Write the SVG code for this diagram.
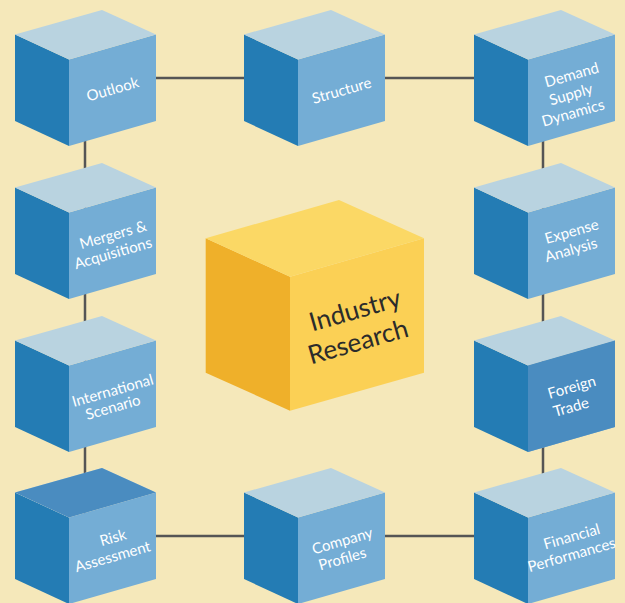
<svg xmlns="http://www.w3.org/2000/svg" width="625" height="603" viewBox="0 0 625 603">
<defs>
<style>
.lf{fill:#247cb4}
.rf{fill:#74add5}
.tf{fill:#b9d3e0}
.dk{fill:#4a8cc0}
.conn{stroke:#555;stroke-width:2.5;fill:none}
.lbl{font-family:Lato,"Open Sans","DejaVu Sans",sans-serif;font-size:15px;fill:#fff;text-anchor:middle}
.big{font-family:Lato,"Open Sans","DejaVu Sans",sans-serif;font-size:26px;fill:#2b2b2b;text-anchor:middle}
</style>
<g id="cube">
<polygon class="lf" points="0,24.5 54,49.5 54,136 0,111"/>
<polygon class="rf" points="54,49.5 141,24.5 141,111 54,136"/>
<polygon class="tf" points="0,24.5 87,0 141,24.5 54,49.5"/>
</g>
</defs>
<rect width="625" height="603" fill="#f5e8ba"/>
<g id="connectors">
<line class="conn" x1="100" y1="78" x2="550" y2="78"/>
<line class="conn" x1="100" y1="536" x2="550" y2="536"/>
<line class="conn" x1="85" y1="100" x2="85" y2="520"/>
<line class="conn" x1="543" y1="100" x2="543" y2="520"/>
</g>
<g id="outlook">
<use href="#cube" x="15" y="10"/>
<text class="lbl" transform="translate(112.7,89.3) rotate(-16)" y="5">Outlook</text>
</g>
<g id="structure">
<use href="#cube" x="244" y="10"/>
<text class="lbl" transform="translate(341.7,90.7) rotate(-16)" y="5">Structure</text>
</g>
<g id="demand">
<use href="#cube" x="474" y="10"/>
<text class="lbl" transform="translate(571.7,75) rotate(-16)" y="5">Demand</text>
<text class="lbl" transform="translate(571,94.5) rotate(-16)" y="5">Supply</text>
<text class="lbl" transform="translate(573,113) rotate(-16)" y="5">Dynamics</text>
</g>
<g id="mergers">
<use href="#cube" x="15" y="163"/>
<text class="lbl" transform="translate(113,235) rotate(-16)" y="5">Mergers &amp;</text>
<text class="lbl" transform="translate(113,253.3) rotate(-16)" y="5">Acquisitions</text>
</g>
<g id="expense">
<use href="#cube" x="474" y="163"/>
<text class="lbl" transform="translate(571.7,231.7) rotate(-16)" y="5">Expense</text>
<text class="lbl" transform="translate(571,250) rotate(-16)" y="5">Analysis</text>
</g>
<g id="international">
<use href="#cube" x="15" y="316"/>
<text class="lbl" transform="translate(112.7,390.7) rotate(-16)" y="5">International</text>
<text class="lbl" transform="translate(113,407.3) rotate(-16)" y="5">Scenario</text>
</g>
<g id="foreign">
<use href="#cube" x="474" y="316"/>
<polygon class="dk" points="528,365.5 615,340.5 615,427 528,452"/>
<text class="lbl" transform="translate(571.7,387.3) rotate(-16)" y="5">Foreign</text>
<text class="lbl" transform="translate(571,407.3) rotate(-16)" y="5">Trade</text>
</g>
<g id="risk">
<use href="#cube" x="15" y="468"/>
<polygon class="dk" points="15,492.5 102,468 156,492.5 69,517.5"/>
<text class="lbl" transform="translate(113,537.7) rotate(-16)" y="5">Risk</text>
<text class="lbl" transform="translate(112.7,556.7) rotate(-16)" y="5">Assessment</text>
</g>
<g id="company">
<use href="#cube" x="244" y="468"/>
<text class="lbl" transform="translate(342.3,541) rotate(-16)" y="5">Company</text>
<text class="lbl" transform="translate(342.3,559) rotate(-16)" y="5">Profiles</text>
</g>
<g id="financial">
<use href="#cube" x="474" y="468"/>
<text class="lbl" transform="translate(571.7,536.7) rotate(-16)" y="5">Financial</text>
<text class="lbl" transform="translate(571.7,555) rotate(-16)" y="5">Performances</text>
</g>
<g id="industry">
<polygon fill="#efb02a" points="205.7,238.3 290,276.7 290,410.7 205.7,372.7"/>
<polygon fill="#fbd055" points="290,276.7 424,238.3 424,372.7 290,410.7"/>
<polygon fill="#fbd865" points="205.7,238.3 339,200 424,238.3 290,276.7"/>
<text class="big" transform="translate(355,310) rotate(-16)" y="9">Industry</text>
<text class="big" transform="translate(358,341.7) rotate(-16)" y="9">Research</text>
</g>
</svg>
